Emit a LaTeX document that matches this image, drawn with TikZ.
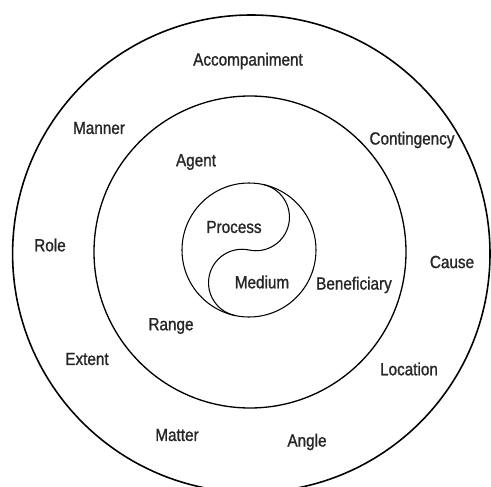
\documentclass[tikz,border=0pt]{standalone}
\usepackage{fontspec}
\setmainfont{Liberation Sans}[FakeStretch=0.87, FakeBold=1.2]
\begin{document}
\begin{tikzpicture}[x=0.02cm, y=-0.02cm, line width=0.9pt,
    lbl/.style={font=\fontsize{10}{12}\selectfont, text=black!85, inner sep=1pt}]
        \useasboundingbox (0, 0) rectangle (491, 487);
        \clip (0, 0) rectangle (491, 487);
        \draw (251.3, 253.7) circle[radius=238.7];
        \draw[line width=0.75pt] (250, 252) circle[radius=156];
        \draw[line width=0.6pt] (249, 250) circle[radius=67];
        \begin{scope}[shift={(249, 250)}, rotate=-12, line width=0.6pt]
            \draw (0, -67) arc[start angle=-90, end angle=90, radius=33.5]
                arc[start angle=-90, end angle=-270, radius=33.5];
        \end{scope}
        \foreach \name/\x/\y in {Accompaniment/248/61, Manner/99/128,
            Contingency/412/140, Agent/196/162, Process/234/227, Role/50/245,
            Cause/452/262, Medium/262/282, Beneficiary/354/285, Range/171/326,
            Extent/87/359, Location/409/369, Matter/177/435, Angle/307/442}{
            \node[lbl] (\name) at (\x, \y) {\name};
        }
    \end{tikzpicture}
\end{document}
